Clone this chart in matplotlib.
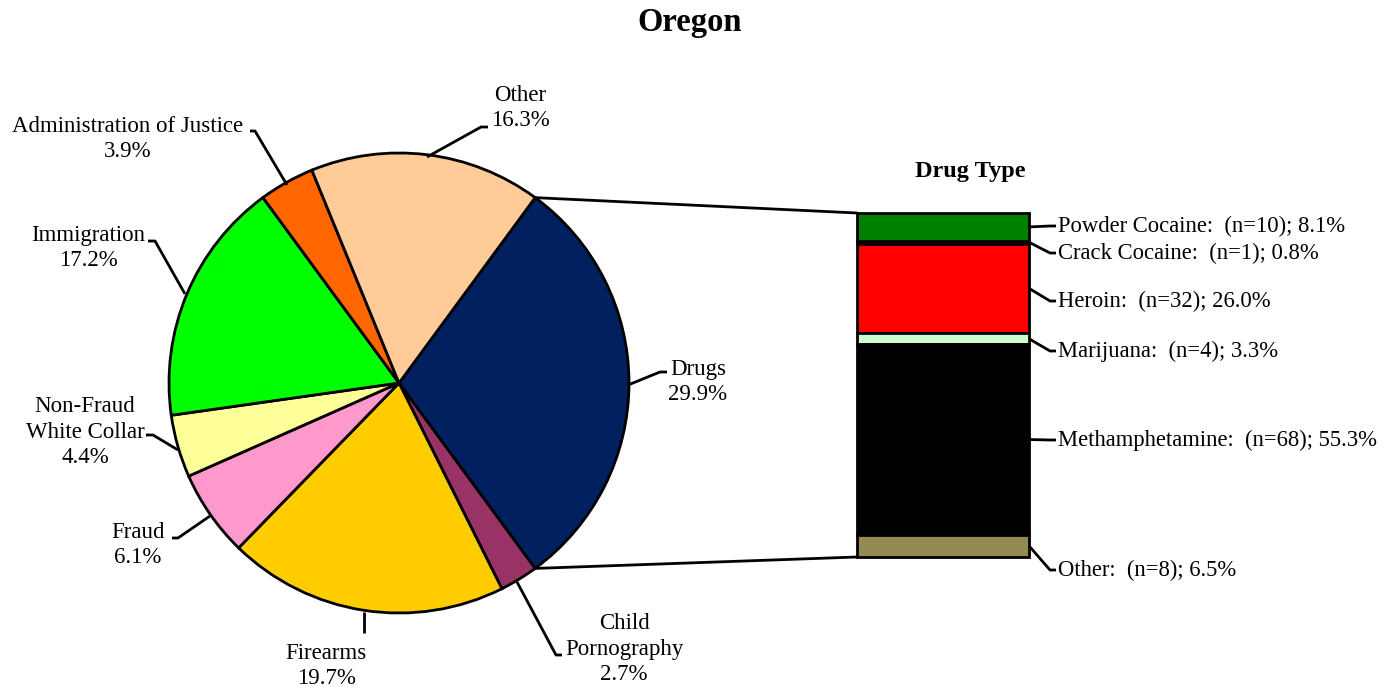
import numpy as np
import matplotlib
matplotlib.use('Agg')
import matplotlib.pyplot as plt
from matplotlib.patches import ConnectionPatch

plt.rcParams['font.family'] = ['Liberation Serif', 'DejaVu Serif']

# offense categories (clockwise from Drugs)
offenses = ['Drugs', 'Child\nPornography', 'Firearms', 'Fraud', 'Non-Fraud\nWhite Collar',
            'Immigration', 'Administration of Justice', 'Other']
offense_pct = [29.9, 2.7, 19.7, 6.1, 4.4, 17.2, 3.9, 16.3]
offense_colors = ['#002060', '#993366', '#FFCC00', '#FF99CC', '#FFFF99',
                  '#00FF00', '#FF6600', '#FFCC99']

# drug type breakdown (top to bottom)
drugs = ['Powder Cocaine', 'Crack Cocaine', 'Heroin', 'Marijuana', 'Methamphetamine', 'Other']
drug_n = [10, 1, 32, 4, 68, 8]
drug_pct = [8.1, 0.8, 26.0, 3.3, 55.3, 6.5]
drug_colors = ['#008000', '#000000', '#FF0000', '#CCFFCC', '#000000', '#948A54']

W, H = 1390, 687
fig = plt.figure(figsize=(W / 100, H / 100), dpi=100)
ax = fig.add_axes([0, 0, 1, 1])

def Y(p):
    return H - p

cx, cy, r = 399, Y(383), 230
wedges, _ = ax.pie(offense_pct, colors=offense_colors, center=(cx, cy), radius=r,
                   startangle=53.7, counterclock=False,
                   wedgeprops=dict(edgecolor='black', linewidth=2))
ax.set_xlim(0, W)
ax.set_ylim(0, H)
ax.set_aspect('equal')
ax.axis('off')

# labels: (text position, leader points) in pixels
lab = [
    ((698, 382), [(628, 385), (660, 372), (667, 372)]),
    ((624, 649), [(517, 582), (556, 655), (562, 655)]),
    ((326, 666), [(364, 612), (364, 633)]),
    ((138, 545), [(210, 516), (178, 538), (172, 538)]),
    ((85, 432), [(178, 450), (153, 435), (146, 435)]),
    ((88, 248), [(185, 294), (155, 241), (148, 241)]),
    ((128, 139), [(287, 185), (255, 131), (250, 131)]),
    ((520, 108), [(427, 157), (481, 127), (488, 127)]),
]
for name, pct, (pos, pts) in zip(offenses, offense_pct, lab):
    ax.text(pos[0], Y(pos[1]), f'{name}\n{pct:.1f}%', ha='center', va='center',
            fontsize=16.5, linespacing=1.3)
    xs = [p[0] for p in pts]
    ys = [Y(p[1]) for p in pts]
    ax.plot(xs, ys, color='black', lw=2, solid_capstyle='butt')

ax.text(690, Y(22), 'Oregon', ha='center', va='center', fontsize=23.5, fontweight='bold')

# stacked bar
bx0, bx1, by0, by1 = 857, 1029, 213, 557
ax2 = fig.add_axes([bx0 / W, (H - by1) / H, (bx1 - bx0) / W, (by1 - by0) / H])
ax2.set_xlim(-0.5, 0.5)
ax2.set_ylim(100, 0)
ax2.axis('off')
bottom = 0
mids = []
for pct, col in zip(drug_pct, drug_colors):
    ax2.bar(0, pct, bottom=bottom, width=1, color=col, edgecolor='black', linewidth=2, clip_on=False)
    mids.append(bottom + pct / 2)
    bottom += pct

ax.text(970, Y(171), 'Drug Type', ha='center', va='center', fontsize=17.5, fontweight='bold')

label_y = [226, 253, 301, 351, 440, 570]
for name, n, pct, m, ly in zip(drugs, drug_n, drug_pct, mids, label_y):
    py = by0 + m / 100 * (by1 - by0)
    ax.plot([bx1, 1050, 1056], [Y(py), Y(ly), Y(ly)], color='black', lw=2, solid_capstyle='butt')
    ax.text(1058, Y(ly), f'{name}:  (n={n}); {pct:.1f}%', ha='left', va='center', fontsize=16.3)

# connector lines from drugs wedge to bar
w = wedges[0]
for th, yb in [(w.theta2, 0), (w.theta1, 100)]:
    pa = (cx + r * np.cos(np.radians(th)), cy + r * np.sin(np.radians(th)))
    con = ConnectionPatch(xyA=pa, coordsA=ax.transData, xyB=(-0.5, yb), coordsB=ax2.transData,
                          color='black', lw=2)
    fig.add_artist(con)

fig.savefig('out.png', dpi=100)
